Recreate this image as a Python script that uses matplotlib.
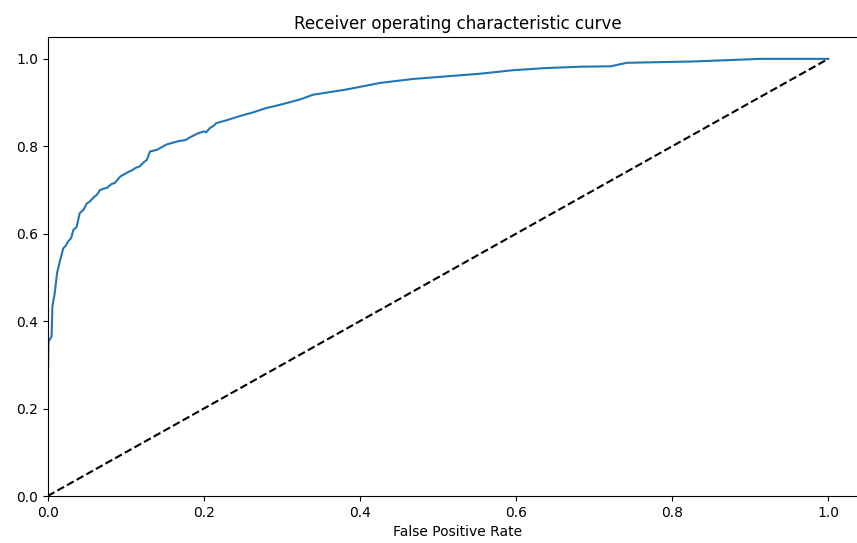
import matplotlib
matplotlib.use("Agg")
import matplotlib.pyplot as plt

fpr = [0.0, 0.001, 0.005, 0.006, 0.009, 0.012, 0.016, 0.020, 0.023, 0.026,
       0.030, 0.033, 0.037, 0.041, 0.046, 0.050, 0.054, 0.060, 0.063, 0.067,
       0.072, 0.076, 0.082, 0.086, 0.093, 0.097, 0.104, 0.108, 0.113, 0.118,
       0.122, 0.127, 0.131, 0.140, 0.145, 0.152, 0.160, 0.168, 0.176, 0.185,
       0.193, 0.200, 0.203, 0.208, 0.212, 0.216, 0.230, 0.246, 0.262, 0.281,
       0.298, 0.323, 0.340, 0.383, 0.426, 0.468, 0.511, 0.554, 0.596, 0.639,
       0.682, 0.721, 0.742, 0.827, 0.870, 0.913, 1.0]
tpr = [0.243, 0.353, 0.365, 0.433, 0.464, 0.510, 0.540, 0.567, 0.572, 0.582,
       0.590, 0.609, 0.615, 0.647, 0.655, 0.669, 0.674, 0.685, 0.689, 0.700,
       0.703, 0.705, 0.714, 0.716, 0.731, 0.735, 0.742, 0.745, 0.751, 0.754,
       0.762, 0.769, 0.788, 0.792, 0.797, 0.804, 0.808, 0.812, 0.814, 0.823,
       0.830, 0.834, 0.832, 0.842, 0.846, 0.853, 0.860, 0.869, 0.877, 0.888,
       0.895, 0.907, 0.918, 0.930, 0.945, 0.954, 0.960, 0.966, 0.974, 0.979,
       0.982, 0.983, 0.991, 0.994, 0.997, 1.0, 1.0]
diag = [0.0, 1.0]
xticks = [0.0, 0.2, 0.4, 0.6, 0.8, 1.0]
yticks = [0.0, 0.2, 0.4, 0.6, 0.8, 1.0]

W, H = 857, 543
fig = plt.figure(figsize=(W / 100, H / 100), dpi=100)
left, right, bottom, top = 47.7, 867.3, 496.0, 37.0
ax = fig.add_axes([left / W, 1 - bottom / H, (right - left) / W, (bottom - top) / H])

ax.plot(fpr, tpr, color="#1f77b4", lw=1.5)
ax.plot(diag, diag, "k--", lw=1.5)
ax.set_xlim(0.0, 1.05)
ax.set_ylim(0.0, 1.05)
ax.set_xticks(xticks)
ax.set_yticks(yticks)
ax.spines["right"].set_visible(False)
ax.tick_params(labelsize=10)
ax.set_xlabel("False Positive Rate", fontsize=10)
ax.set_title("Receiver operating characteristic curve", fontsize=12)

fig.savefig("out.png", dpi=100)
